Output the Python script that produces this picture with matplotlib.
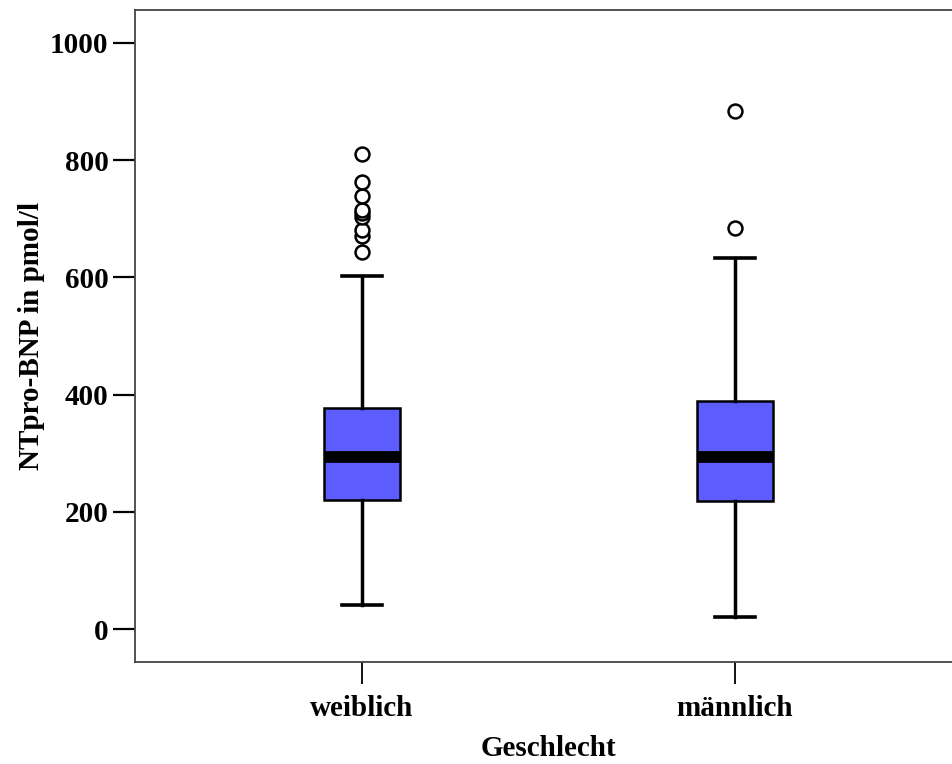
import matplotlib.pyplot as plt

# NTpro-BNP summary per group (pmol/l)
groups = ['weiblich', 'männlich']
q1 = [220, 218]
median = [293, 293]
q3 = [377, 389]
whisker_low = [42, 21]
whisker_high = [603, 633]
outliers = [
    [643, 671, 681, 703, 709, 715, 739, 762, 810],
    [684, 884],
]

y_ticks = [0, 200, 400, 600, 800, 1000]

plt.rcParams['font.family'] = 'Liberation Serif'
plt.rcParams['font.weight'] = 'bold'

fig = plt.figure(figsize=(9.52, 7.64), dpi=100)
ax = fig.add_axes([135 / 952, 102 / 764, 827 / 952, 652 / 764])

stats = []
for i, name in enumerate(groups):
    stats.append({
        'label': name,
        'med': median[i],
        'q1': q1[i],
        'q3': q3[i],
        'whislo': whisker_low[i],
        'whishi': whisker_high[i],
        'fliers': outliers[i],
    })

ax.bxp(stats, positions=[1, 2], widths=0.206, patch_artist=True,
       boxprops=dict(facecolor='#5c5cff', edgecolor='black', linewidth=1.8),
       medianprops=dict(color='black', linewidth=8.5, solid_capstyle='butt'),
       whiskerprops=dict(color='black', linewidth=2.5),
       capprops=dict(color='black', linewidth=2.6),
       capwidths=0.105,
       flierprops=dict(marker='o', markersize=10, markerfacecolor='white',
                       markeredgecolor='black', markeredgewidth=1.8))

ax.set_xlim(1 - 227 / 373, 2 + 227 / 373)
ax.set_ylim(-56, 1056)
ax.set_yticks(y_ticks)
ax.set_xticks([1, 2])
ax.set_xticklabels(groups)

for side in ['left', 'bottom', 'top', 'right']:
    ax.spines[side].set_color('#444444')
    ax.spines[side].set_linewidth(1.3)

ax.tick_params(axis='y', length=16, width=1.6, color='black', labelsize=21, pad=3)
ax.tick_params(axis='x', length=16, width=1.3, color='black', labelsize=21, pad=8)

ax.set_xlabel('Geschlecht', fontsize=21, fontweight='bold', labelpad=9)
ax.set_ylabel('NTpro-BNP in pmol/l', fontsize=21, fontweight='bold', labelpad=4)

fig.savefig('out.png', dpi=100)
